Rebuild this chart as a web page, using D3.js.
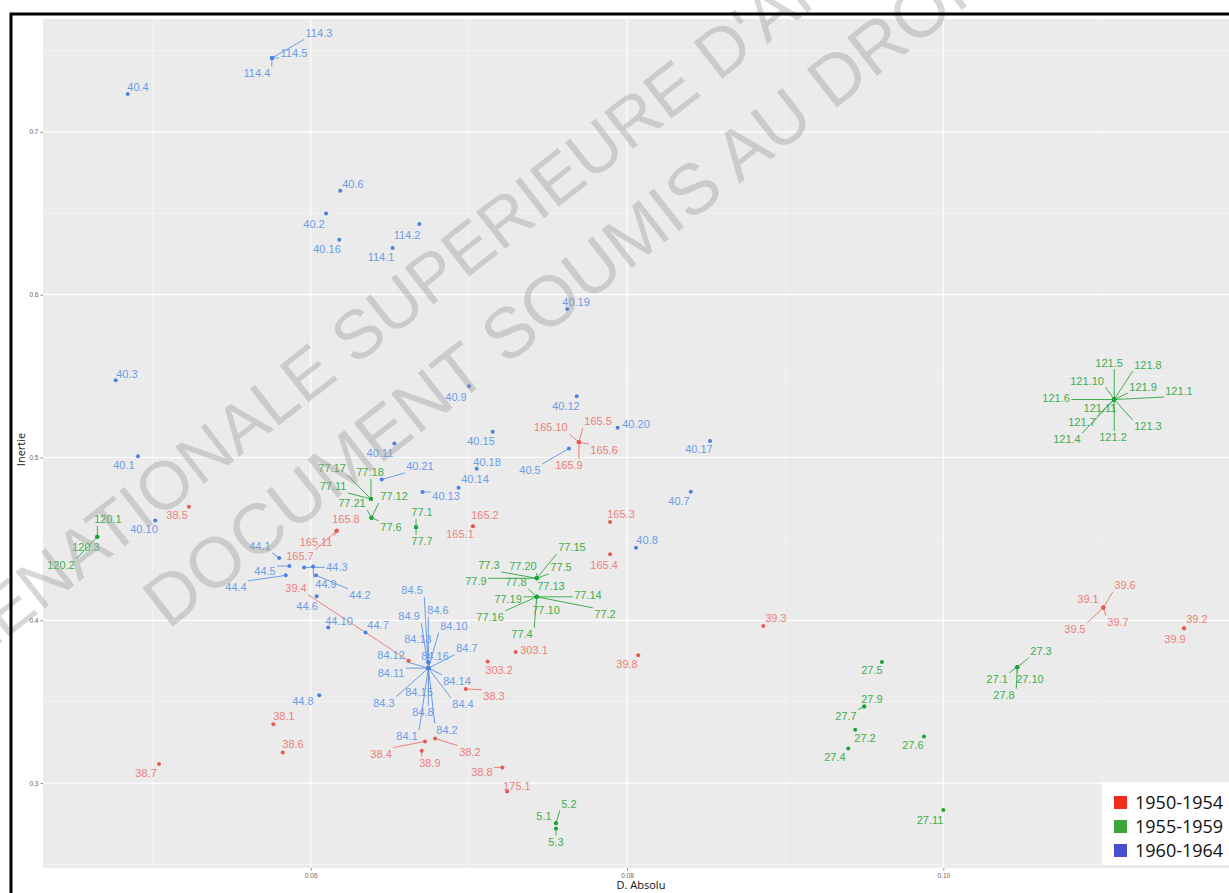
<!DOCTYPE html>
<html>
<head>
<meta charset="utf-8">
<script src="https://cdn.jsdelivr.net/npm/d3@7"></script>
<style>
  html, body { margin: 0; padding: 0; background: #ffffff; }
  svg { display: block; }
</style>
</head>
<body>
<svg id="chart" width="1229" height="893"></svg>
<script>
// ---- data -------------------------------------------------------------
const periods = ["1950-1954", "1955-1959", "1960-1964"];
const xTicks = [0.06, 0.08, 0.10];
const xMinor = [0.05, 0.07, 0.09, 0.11];
const yTicks = [0.3, 0.4, 0.5, 0.6, 0.7];
const yMinor = [0.25, 0.35, 0.45, 0.55, 0.65, 0.75];

// observations: [id, D. Absolu, Inertie]
const obs1950 = [
  ["38.1", 0.05764, 0.3362], ["38.2", 0.06786, 0.3274], ["38.3", 0.06980, 0.3578],
  ["38.4", 0.06723, 0.3256], ["38.5", 0.05230, 0.4698], ["38.6", 0.05823, 0.3188],
  ["38.7", 0.05041, 0.3117], ["38.8", 0.07212, 0.3096], ["38.9", 0.06702, 0.3198],
  ["39.1", 0.11012, 0.4078], ["39.2", 0.11522, 0.3951], ["39.3", 0.08862, 0.3965],
  ["39.4", 0.06620, 0.3751], ["39.5", 0.11012, 0.4078], ["39.6", 0.11012, 0.4078],
  ["39.7", 0.11012, 0.4078], ["39.8", 0.08071, 0.3785], ["39.9", 0.11522, 0.3951],
  ["165.1", 0.07026, 0.4578], ["165.2", 0.07026, 0.4578], ["165.3", 0.07893, 0.4603],
  ["165.4", 0.07893, 0.4405], ["165.5", 0.07696, 0.5094], ["165.6", 0.07696, 0.5094],
  ["165.7", 0.06164, 0.4550], ["165.8", 0.06164, 0.4550], ["165.9", 0.07696, 0.5094],
  ["165.10", 0.07696, 0.5094], ["165.11", 0.06164, 0.4550], ["175.1", 0.07242, 0.2948],
  ["303.1", 0.07296, 0.3806], ["303.2", 0.07119, 0.3747]
];
// label anchors after repulsion, in data units (same order as obs1950)
const lab1950 = [
  [0.05831, 0.34110], [0.07007, 0.31902], [0.07159, 0.35337],
  [0.06445, 0.31779], [0.05155, 0.46442], [0.05888, 0.32393],
  [0.04959, 0.30613], [0.07083, 0.30675], [0.06754, 0.31227],
  [0.10915, 0.41288], [0.11604, 0.40061], [0.08942, 0.40123],
  [0.05907, 0.41963], [0.10833, 0.39448], [0.11149, 0.42147],
  [0.11105, 0.39877], [0.08000, 0.37301], [0.11465, 0.38834],
  [0.06944, 0.45276], [0.07102, 0.46442], [0.07962, 0.46503],
  [0.07855, 0.43374], [0.07817, 0.52209], [0.07855, 0.50429],
  [0.05932, 0.43926], [0.06223, 0.46196], [0.07633, 0.49509],
  [0.07519, 0.51840], [0.06034, 0.44785], [0.07304, 0.29816],
  [0.07412, 0.38160], [0.07191, 0.36933]
];

const obs1955 = [
  ["5.1", 0.07551, 0.2753], ["5.2", 0.07551, 0.2753], ["5.3", 0.07551, 0.2721],
  ["27.1", 0.10468, 0.3712], ["27.2", 0.09443, 0.3327], ["27.3", 0.10468, 0.3712],
  ["27.4", 0.09399, 0.3213], ["27.5", 0.09612, 0.3744], ["27.6", 0.09878, 0.3286],
  ["27.7", 0.09500, 0.3471], ["27.8", 0.10468, 0.3712], ["27.9", 0.09500, 0.3471],
  ["27.10", 0.10468, 0.3712], ["27.11", 0.10000, 0.2834],
  ["77.1", 0.06666, 0.4572], ["77.2", 0.07429, 0.4144], ["77.3", 0.07429, 0.4258],
  ["77.4", 0.07429, 0.4144], ["77.5", 0.07429, 0.4258], ["77.6", 0.06384, 0.4630],
  ["77.7", 0.06666, 0.4572], ["77.8", 0.07429, 0.4144], ["77.9", 0.07429, 0.4258],
  ["77.10", 0.07429, 0.4144], ["77.11", 0.06381, 0.4745], ["77.12", 0.06384, 0.4630],
  ["77.13", 0.07429, 0.4258], ["77.14", 0.07429, 0.4144], ["77.15", 0.07429, 0.4258],
  ["77.16", 0.07429, 0.4144], ["77.17", 0.06381, 0.4745], ["77.18", 0.06381, 0.4745],
  ["77.19", 0.07429, 0.4144], ["77.20", 0.07429, 0.4258], ["77.21", 0.06384, 0.4630],
  ["120.1", 0.04651, 0.4513], ["120.2", 0.04651, 0.4513], ["120.3", 0.04651, 0.4513],
  ["121.1", 0.11081, 0.5356], ["121.2", 0.11081, 0.5356], ["121.3", 0.11081, 0.5356],
  ["121.4", 0.11081, 0.5356], ["121.5", 0.11081, 0.5356], ["121.6", 0.11081, 0.5356],
  ["121.7", 0.11081, 0.5356], ["121.8", 0.11081, 0.5356], ["121.9", 0.11081, 0.5356],
  ["121.10", 0.11081, 0.5356], ["121.11", 0.11081, 0.5356]
];
const lab1955 = [
  [0.07475, 0.27975], [0.07633, 0.28712], [0.07551, 0.26380],
  [0.10340, 0.36380], [0.09505, 0.32761], [0.10618, 0.38098],
  [0.09315, 0.31595], [0.09549, 0.36933], [0.09808, 0.32331],
  [0.09385, 0.34110], [0.10384, 0.35399], [0.09549, 0.35153],
  [0.10548, 0.36380], [0.09916, 0.27730],
  [0.06704, 0.46626], [0.07861, 0.40368], [0.07127, 0.43374],
  [0.07336, 0.39141], [0.07583, 0.43252], [0.06508, 0.45706],
  [0.06704, 0.44847], [0.07298, 0.42331], [0.07045, 0.42393],
  [0.07488, 0.40613], [0.06141, 0.48221], [0.06527, 0.47607],
  [0.07519, 0.42086], [0.07753, 0.41534], [0.07652, 0.44479],
  [0.07134, 0.40184], [0.06135, 0.49325], [0.06375, 0.49080],
  [0.07248, 0.41288], [0.07342, 0.43313], [0.06261, 0.47178],
  [0.04718, 0.46196], [0.04421, 0.43374], [0.04579, 0.44479],
  [0.11490, 0.54110], [0.11073, 0.51227], [0.11294, 0.51902],
  [0.10782, 0.51104], [0.11048, 0.55828], [0.10713, 0.53681],
  [0.10877, 0.52147], [0.11294, 0.55706], [0.11263, 0.54356],
  [0.10909, 0.54724], [0.10991, 0.53067]
];

const obs1960 = [
  ["40.1", 0.04908, 0.5008], ["40.2", 0.06097, 0.6499], ["40.3", 0.04767, 0.5474],
  ["40.4", 0.04843, 0.7233], ["40.5", 0.07633, 0.5055], ["40.6", 0.06187, 0.6638],
  ["40.7", 0.08403, 0.4790], ["40.8", 0.08057, 0.4446], ["40.9", 0.07001, 0.5437],
  ["40.10", 0.05017, 0.4613], ["40.11", 0.06529, 0.5086], ["40.12", 0.07682, 0.5376],
  ["40.13", 0.06707, 0.4788], ["40.14", 0.06935, 0.4814], ["40.15", 0.07151, 0.5158],
  ["40.16", 0.06181, 0.6337], ["40.17", 0.08525, 0.5101], ["40.18", 0.07050, 0.4931],
  ["40.19", 0.07622, 0.5912], ["40.20", 0.07941, 0.5182], ["40.21", 0.06449, 0.4865],
  ["44.1", 0.05801, 0.4382], ["44.2", 0.06034, 0.4276], ["44.3", 0.05958, 0.4325],
  ["44.4", 0.05842, 0.4276], ["44.5", 0.05865, 0.4333], ["44.6", 0.06038, 0.4147],
  ["44.7", 0.06347, 0.3925], ["44.8", 0.06054, 0.3540], ["44.9", 0.06015, 0.4331],
  ["44.10", 0.06111, 0.3955],
  ["84.1", 0.06744, 0.3706], ["84.2", 0.06744, 0.3706], ["84.3", 0.06744, 0.3706],
  ["84.4", 0.06744, 0.3706], ["84.5", 0.06744, 0.3706], ["84.6", 0.06744, 0.3706],
  ["84.7", 0.06744, 0.3706], ["84.8", 0.06744, 0.3706], ["84.9", 0.06744, 0.3706],
  ["84.10", 0.06744, 0.3706], ["84.11", 0.06744, 0.3706], ["84.12", 0.06744, 0.3706],
  ["84.13", 0.06744, 0.3742], ["84.14", 0.06744, 0.3706], ["84.15", 0.06744, 0.3706],
  ["84.16", 0.06744, 0.3742],
  ["114.1", 0.06518, 0.6287], ["114.2", 0.06687, 0.6434], ["114.3", 0.05755, 0.7454],
  ["114.4", 0.05755, 0.7454], ["114.5", 0.05755, 0.7454]
];
const lab1960 = [
  [0.04819, 0.49509], [0.06021, 0.64356], [0.04838, 0.55153],
  [0.04908, 0.72761], [0.07387, 0.49202], [0.06267, 0.66810],
  [0.08329, 0.47301], [0.08127, 0.44908], [0.06919, 0.53742],
  [0.04946, 0.45583], [0.06438, 0.50245], [0.07614, 0.53190],
  [0.06856, 0.47607], [0.07039, 0.48650], [0.07077, 0.50982],
  [0.06103, 0.62822], [0.08455, 0.50491], [0.07115, 0.49693],
  [0.07678, 0.59571], [0.08057, 0.52025], [0.06691, 0.49448],
  [0.05679, 0.44540], [0.06312, 0.41534], [0.06166, 0.43252],
  [0.05528, 0.42025], [0.05711, 0.43006], [0.05977, 0.40859],
  [0.06426, 0.39693], [0.05951, 0.35031], [0.06097, 0.42209],
  [0.06179, 0.39939],
  [0.06609, 0.32883], [0.06862, 0.33252], [0.06463, 0.34908],
  [0.06963, 0.34847], [0.06641, 0.41840], [0.06805, 0.40613],
  [0.06988, 0.38282], [0.06710, 0.34356], [0.06622, 0.40245],
  [0.06906, 0.39632], [0.06508, 0.36748], [0.06508, 0.37853],
  [0.06678, 0.38834], [0.06925, 0.36258], [0.06685, 0.35583],
  [0.06786, 0.37791],
  [0.06445, 0.62331], [0.06609, 0.63681], [0.06052, 0.76074],
  [0.05660, 0.73620], [0.05894, 0.74847]
];

// ---- styles -----------------------------------------------------------
const pointColour = { "1950-1954": "#e65a50", "1955-1959": "#18a535", "1960-1964": "#4d80e0" };
const labelColour = { "1950-1954": "#ec8079", "1955-1959": "#40ae50", "1960-1964": "#6c9ce8" };
const keyColour   = { "1950-1954": "#f22d1e", "1955-1959": "#3ca53c", "1960-1964": "#4650d0" };

const panel = { left: 43, right: 1239, top: 19, bottom: 868 };

const svg = d3.select("#chart");

const x = d3.scaleLinear().domain([0.043073, 0.118698]).range([panel.left, panel.right]);
const y = d3.scaleLinear().domain([0.24785, 0.76933]).range([panel.bottom, panel.top]);

svg.append("rect").attr("width", 1229).attr("height", 893).attr("fill", "#ffffff");

// panel
svg.append("rect")
  .attr("x", panel.left).attr("y", panel.top)
  .attr("width", panel.right - panel.left).attr("height", panel.bottom - panel.top)
  .attr("fill", "#ebebeb");

const grid = svg.append("g");
grid.selectAll(".vmin").data(xMinor).join("line")
  .attr("x1", d => x(d)).attr("x2", d => x(d))
  .attr("y1", panel.top).attr("y2", panel.bottom)
  .attr("stroke", "#f7f7f7").attr("stroke-width", 0.6);
grid.selectAll(".hmin").data(yMinor).join("line")
  .attr("y1", d => y(d)).attr("y2", d => y(d))
  .attr("x1", panel.left).attr("x2", panel.right)
  .attr("stroke", "#f7f7f7").attr("stroke-width", 0.6);
grid.selectAll(".vmaj").data(xTicks).join("line")
  .attr("x1", d => x(d)).attr("x2", d => x(d))
  .attr("y1", panel.top).attr("y2", panel.bottom)
  .attr("stroke", "#ffffff").attr("stroke-width", 1.2);
grid.selectAll(".hmaj").data(yTicks).join("line")
  .attr("y1", d => y(d)).attr("y2", d => y(d))
  .attr("x1", panel.left).attr("x2", panel.right)
  .attr("stroke", "#ffffff").attr("stroke-width", 1.2);

// axes
const xAxis = d3.axisBottom(x).tickValues(xTicks).tickFormat(d3.format(".2f")).tickSize(2.5).tickPadding(3);
const yAxis = d3.axisLeft(y).tickValues(yTicks).tickFormat(d3.format(".1f")).tickSize(2.5).tickPadding(2);

const gx = svg.append("g").attr("transform", `translate(0,${panel.bottom})`).call(xAxis);
const gy = svg.append("g").attr("transform", `translate(${panel.left},0)`).call(yAxis);
[gx, gy].forEach(g => {
  g.select(".domain").remove();
  g.selectAll(".tick line").attr("stroke", "#555").attr("stroke-width", 0.7);
  g.selectAll(".tick text").attr("fill", "#666").attr("font-size", "6.5px")
    .attr("font-family", "Liberation Sans, Arial, sans-serif");
});

svg.append("text")
  .attr("x", (panel.left + panel.right) / 2).attr("y", 889)
  .attr("text-anchor", "middle")
  .attr("font-family", "Open Sans, sans-serif").attr("font-size", "11px").attr("fill", "#111")
  .text("D. Absolu");
svg.append("text")
  .attr("transform", `translate(25,${(panel.top + panel.bottom) / 2 + 6}) rotate(-90)`)
  .attr("text-anchor", "middle")
  .attr("font-family", "Open Sans, sans-serif").attr("font-size", "11px").attr("fill", "#111")
  .text("Inertie");

// ---- points and repelled labels -----------------------------------------
const groups = [
  { period: periods[0], obs: obs1950, lab: lab1950 },
  { period: periods[1], obs: obs1955, lab: lab1955 },
  { period: periods[2], obs: obs1960, lab: lab1960 }
];

const segLayer = svg.append("g");
const ptLayer = svg.append("g");
const txtLayer = svg.append("g")
  .attr("font-family", "Liberation Sans, Arial, sans-serif")
  .attr("font-size", "11px");

groups.forEach(g => {
  const rows = g.obs.map((o, i) => ({
    id: o[0], vx: o[1], vy: o[2], lx: g.lab[i][0], ly: g.lab[i][1]
  }));

  ptLayer.selectAll(null).data(rows).join("circle")
    .attr("cx", d => x(d.vx)).attr("cy", d => y(d.vy)).attr("r", 2)
    .attr("fill", pointColour[g.period]);

  const texts = txtLayer.selectAll(null).data(rows).join("text")
    .attr("x", d => x(d.lx)).attr("y", d => y(d.ly))
    .attr("dy", "0.36em")
    .attr("text-anchor", "middle")
    .attr("fill", labelColour[g.period])
    .text(d => d.id);

  // leader segment from the point to the nearest edge of its label box
  texts.each(function (d) {
    const w = this.getComputedTextLength();
    const cx = x(d.lx), cy = y(d.ly);
    const pad = 1.5;
    const x0 = cx - w / 2 - pad, x1 = cx + w / 2 + pad;
    const y0 = cy - 5 - pad, y1 = cy + 5 + pad;
    const px = x(d.vx), py = y(d.vy);
    const nx = Math.max(x0, Math.min(px, x1));
    const ny = Math.max(y0, Math.min(py, y1));
    const dist = Math.hypot(nx - px, ny - py);
    if (dist > 5) {
      segLayer.append("line")
        .attr("x1", px).attr("y1", py).attr("x2", nx).attr("y2", ny)
        .attr("stroke", labelColour[g.period]).attr("stroke-width", 1);
    }
  });
});

// ---- legend -------------------------------------------------------------
const legend = svg.append("g");
legend.append("rect")
  .attr("x", 1102).attr("y", 782).attr("width", 140).attr("height", 83)
  .attr("fill", "#ffffff");
periods.forEach((p, i) => {
  legend.append("rect")
    .attr("x", 1114).attr("y", 796 + i * 24).attr("width", 13).attr("height", 13)
    .attr("fill", keyColour[p]);
  legend.append("text")
    .attr("x", 1135).attr("y", 802.5 + i * 24).attr("dy", "0.36em")
    .attr("font-family", "Open Sans, sans-serif").attr("font-size", "18px")
    .attr("fill", "#111")
    .text(p);
});

// ---- watermark ------------------------------------------------------------
const mark = svg.append("g")
  .attr("font-family", "Liberation Sans, Arial, sans-serif")
  .attr("fill", "#9a9a9a").attr("fill-opacity", 0.4);
mark.append("text")
  .attr("font-size", "68px")
  .attr("transform", "translate(40,612) rotate(-38)")
  .attr("text-anchor", "end")
  .text("ECOLE ");
mark.append("text")
  .attr("font-size", "68px")
  .attr("transform", "translate(40,612) rotate(-38)")
  .text("NATIONALE SUPERIEURE D'ARCHITECTURE");
mark.append("text")
  .attr("font-size", "71px")
  .attr("transform", "translate(168,630) rotate(-38)")
  .text("DOCUMENT SOUMIS AU DROIT D'AUTEUR");

// outer frame
svg.append("rect")
  .attr("x", 11).attr("y", 14).attr("width", 1240).attr("height", 900)
  .attr("fill", "none").attr("stroke", "#000").attr("stroke-width", 3);
</script>
</body>
</html>
